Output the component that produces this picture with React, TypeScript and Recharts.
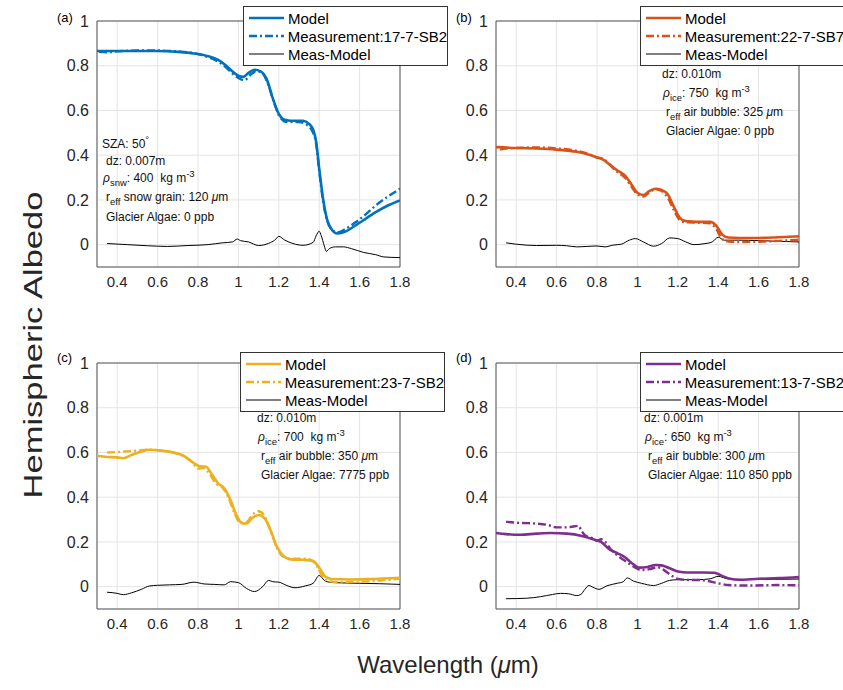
import React from 'react';
import { LineChart, Line, XAxis, YAxis, CartesianGrid, ReferenceArea } from 'recharts';

type Pt = [number, number];

// wavelength (um) -> albedo
const aModel: Pt[] = [[0.30,0.866],[0.40,0.866],[0.50,0.866],[0.60,0.866],[0.70,0.862],[0.78,0.855],[0.84,0.845],[0.90,0.826],[0.94,0.8],[0.97,0.775],[1.00,0.755],[1.025,0.75],[1.05,0.768],[1.08,0.782],[1.11,0.775],[1.14,0.74],[1.17,0.655],[1.20,0.585],[1.23,0.558],[1.26,0.554],[1.32,0.554],[1.35,0.54],[1.37,0.515],[1.385,0.46],[1.40,0.34],[1.42,0.2],[1.44,0.11],[1.46,0.07],[1.49,0.05],[1.53,0.058],[1.57,0.08],[1.62,0.11],[1.68,0.145],[1.74,0.175],[1.80,0.198]];
const aMeas: Pt[] = [[0.31,0.862],[0.35,0.86],[0.40,0.864],[0.50,0.868],[0.60,0.868],[0.70,0.864],[0.78,0.856],[0.84,0.842],[0.90,0.818],[0.94,0.792],[0.97,0.765],[1.00,0.745],[1.03,0.735],[1.06,0.76],[1.09,0.776],[1.12,0.765],[1.15,0.71],[1.18,0.625],[1.21,0.565],[1.24,0.548],[1.30,0.548],[1.34,0.535],[1.37,0.5],[1.385,0.45],[1.40,0.33],[1.42,0.19],[1.44,0.105],[1.46,0.07],[1.49,0.055],[1.53,0.07],[1.58,0.1],[1.63,0.135],[1.68,0.175],[1.74,0.215],[1.80,0.25]];
const aDiff: Pt[] = [[0.35,0.005],[0.45,0.0],[0.55,-0.005],[0.65,-0.008],[0.75,-0.004],[0.85,0.0],[0.92,0.008],[0.97,0.012],[0.995,0.025],[1.01,0.018],[1.05,0.012],[1.10,-0.004],[1.15,0.006],[1.18,0.02],[1.20,0.037],[1.23,0.02],[1.27,0.005],[1.32,-0.003],[1.37,0.01],[1.385,0.04],[1.40,0.06],[1.41,0.04],[1.425,-0.005],[1.435,-0.03],[1.45,-0.018],[1.48,-0.01],[1.52,-0.01],[1.56,-0.018],[1.62,-0.035],[1.68,-0.045],[1.72,-0.055],[1.80,-0.058]];

const bModel: Pt[] = [[0.30,0.436],[0.40,0.432],[0.50,0.43],[0.60,0.425],[0.70,0.415],[0.76,0.402],[0.80,0.39],[0.83,0.38],[0.86,0.36],[0.90,0.332],[0.94,0.308],[0.97,0.27],[1.00,0.232],[1.03,0.222],[1.06,0.24],[1.09,0.25],[1.12,0.245],[1.15,0.225],[1.18,0.17],[1.21,0.12],[1.24,0.105],[1.30,0.102],[1.36,0.102],[1.39,0.085],[1.42,0.045],[1.45,0.032],[1.50,0.03],[1.60,0.03],[1.70,0.033],[1.80,0.037]];
const bMeas: Pt[] = [[0.32,0.425],[0.35,0.43],[0.40,0.432],[0.50,0.435],[0.60,0.43],[0.70,0.42],[0.76,0.405],[0.80,0.39],[0.83,0.385],[0.86,0.36],[0.90,0.325],[0.94,0.298],[0.97,0.26],[1.00,0.225],[1.03,0.215],[1.06,0.235],[1.09,0.248],[1.12,0.24],[1.15,0.21],[1.18,0.155],[1.21,0.11],[1.24,0.1],[1.30,0.098],[1.36,0.095],[1.39,0.07],[1.42,0.025],[1.45,0.014],[1.50,0.012],[1.60,0.013],[1.70,0.017],[1.80,0.022]];
const bDiff: Pt[] = [[0.35,0.008],[0.40,0.002],[0.50,-0.004],[0.60,-0.003],[0.65,-0.005],[0.70,-0.01],[0.75,-0.008],[0.80,-0.006],[0.84,-0.01],[0.88,-0.002],[0.92,0.002],[0.96,0.02],[0.99,0.027],[1.03,0.012],[1.08,-0.007],[1.12,0.005],[1.16,0.03],[1.20,0.027],[1.24,0.012],[1.28,0.0],[1.33,0.004],[1.37,0.012],[1.40,0.033],[1.43,0.02],[1.50,0.02],[1.60,0.018],[1.70,0.015],[1.80,0.012]];

const cModel: Pt[] = [[0.30,0.585],[0.35,0.58],[0.40,0.578],[0.43,0.574],[0.47,0.588],[0.52,0.604],[0.56,0.612],[0.62,0.608],[0.68,0.6],[0.73,0.585],[0.78,0.552],[0.81,0.538],[0.84,0.536],[0.87,0.5],[0.90,0.462],[0.93,0.44],[0.96,0.39],[0.99,0.32],[1.02,0.283],[1.04,0.282],[1.07,0.308],[1.10,0.32],[1.13,0.305],[1.16,0.25],[1.19,0.18],[1.22,0.14],[1.26,0.122],[1.32,0.12],[1.37,0.115],[1.40,0.085],[1.43,0.045],[1.46,0.034],[1.55,0.032],[1.65,0.034],[1.80,0.04]];
const cMeas: Pt[] = [[0.35,0.6],[0.40,0.602],[0.45,0.605],[0.50,0.608],[0.55,0.612],[0.60,0.61],[0.66,0.602],[0.72,0.588],[0.77,0.558],[0.80,0.528],[0.83,0.53],[0.86,0.5],[0.89,0.46],[0.92,0.445],[0.95,0.4],[0.98,0.33],[1.01,0.285],[1.04,0.288],[1.07,0.322],[1.10,0.337],[1.13,0.315],[1.16,0.248],[1.19,0.175],[1.22,0.135],[1.26,0.125],[1.32,0.125],[1.36,0.12],[1.39,0.09],[1.42,0.04],[1.45,0.024],[1.50,0.02],[1.60,0.022],[1.70,0.027],[1.80,0.035]];
const cDiff: Pt[] = [[0.35,-0.025],[0.40,-0.03],[0.43,-0.036],[0.47,-0.028],[0.52,-0.012],[0.56,0.003],[0.60,0.006],[0.66,0.008],[0.72,0.01],[0.78,0.02],[0.83,0.012],[0.88,0.01],[0.93,0.008],[0.96,0.022],[1.00,0.018],[1.04,-0.008],[1.08,-0.022],[1.12,0.0],[1.15,0.028],[1.17,0.022],[1.20,0.02],[1.24,0.005],[1.28,-0.005],[1.33,0.003],[1.37,0.015],[1.40,0.05],[1.43,0.025],[1.47,0.018],[1.60,0.015],[1.70,0.013],[1.80,0.01]];

const dModel: Pt[] = [[0.30,0.24],[0.35,0.235],[0.42,0.232],[0.50,0.237],[0.57,0.24],[0.65,0.237],[0.72,0.228],[0.78,0.212],[0.82,0.2],[0.86,0.168],[0.90,0.15],[0.94,0.13],[0.97,0.107],[1.01,0.085],[1.05,0.088],[1.09,0.097],[1.12,0.095],[1.16,0.082],[1.20,0.068],[1.25,0.063],[1.32,0.063],[1.38,0.062],[1.42,0.048],[1.46,0.035],[1.50,0.031],[1.60,0.035],[1.70,0.038],[1.80,0.043]];
const dMeas: Pt[] = [[0.35,0.29],[0.42,0.285],[0.50,0.282],[0.56,0.275],[0.60,0.265],[0.65,0.265],[0.69,0.27],[0.71,0.272],[0.72,0.255],[0.74,0.23],[0.78,0.215],[0.80,0.205],[0.82,0.212],[0.84,0.2],[0.87,0.165],[0.90,0.14],[0.94,0.115],[0.98,0.09],[1.02,0.074],[1.06,0.078],[1.10,0.087],[1.13,0.075],[1.16,0.055],[1.20,0.035],[1.25,0.03],[1.30,0.03],[1.35,0.025],[1.40,0.015],[1.45,0.007],[1.55,0.005],[1.70,0.007],[1.80,0.006]];
const dDiff: Pt[] = [[0.35,-0.054],[0.45,-0.052],[0.52,-0.045],[0.58,-0.035],[0.62,-0.03],[0.66,-0.032],[0.70,-0.04],[0.72,-0.035],[0.74,-0.012],[0.76,0.005],[0.78,-0.003],[0.81,-0.012],[0.85,0.004],[0.90,0.015],[0.93,0.022],[0.95,0.039],[0.98,0.025],[1.02,0.015],[1.08,0.005],[1.12,0.015],[1.16,0.028],[1.20,0.031],[1.30,0.031],[1.36,0.035],[1.40,0.046],[1.45,0.034],[1.55,0.032],[1.80,0.034]];

const X_TICKS = [0.4, 0.6, 0.8, 1, 1.2, 1.4, 1.6, 1.8];
const Y_TICKS = [0, 0.2, 0.4, 0.6, 0.8, 1];

const FONT = "'Liberation Sans', Arial, Helvetica, sans-serif";
const INK = '#262626';

const rows = (pts: Pt[]) => pts.map(([w, v]) => ({ w, v }));

function Panel({ left, top, color, model, meas, diff }: any) {
  return (
    <div style={{ position: 'absolute', left, top }}>
      <LineChart width={420} height={300} margin={{ top: 21, right: 20, bottom: 0, left: 0 }}>
        <CartesianGrid stroke="#e4e4e4" />
        <XAxis type="number" dataKey="w" domain={[0.3, 1.8]} ticks={X_TICKS} allowDataOverflow
          height={33} tickSize={0} tickMargin={9} axisLine={false}
          tick={{ fontSize: 15, fill: INK, fontFamily: FONT }} />
        <YAxis type="number" domain={[-0.1, 1]} ticks={Y_TICKS} allowDataOverflow
          width={97} tickSize={0} tickMargin={8} axisLine={false}
          tick={{ fontSize: 16, fill: INK, fontFamily: FONT }} />
        <ReferenceArea x1={0.3} x2={1.8} y1={-0.1} y2={1} fill="none" stroke="#555" strokeWidth={1} />
        <Line data={rows(diff)} dataKey="v" type="monotone" stroke="#000" strokeWidth={1}
          dot={false} isAnimationActive={false} />
        <Line data={rows(meas)} dataKey="v" type="monotone" stroke={color} strokeWidth={2.4}
          strokeDasharray="8 3 2 3" dot={false} isAnimationActive={false} />
        <Line data={rows(model)} dataKey="v" type="monotone" stroke={color} strokeWidth={2.6}
          dot={false} isAnimationActive={false} />
      </LineChart>
    </div>
  );
}

function LegendBox({ left, top, color, label }: any) {
  const row = (dash: string | undefined, c: string, w: number, text: string) => (
    <div style={{ display: 'flex', alignItems: 'center', height: 18 }}>
      <svg width={44} height={18}>
        <line x1={5} x2={40} y1={9} y2={9} stroke={c} strokeWidth={w} strokeDasharray={dash} />
      </svg>
      <span>{text}</span>
    </div>
  );
  return (
    <div style={{
      position: 'absolute', left, top, width: 203, height: 56, paddingTop: 2,
      border: '1px solid #333', background: '#fff', fontSize: 15, color: '#000',
      whiteSpace: 'nowrap', overflow: 'hidden',
    }}>
      {row(undefined, color, 2.6, 'Model')}
      {row('8 3 2 3', color, 2.4, label)}
      {row(undefined, '#000', 1, 'Meas-Model')}
    </div>
  );
}

const sub = (t: string) => <span style={{ fontSize: 9.5, position: 'relative', top: 4 }}>{t}</span>;
const sup = (t: string) => <span style={{ fontSize: 9.5, position: 'relative', top: -5 }}>{t}</span>;
const mu = <i>μ</i>;

function Note({ x, y, children }: any) {
  return (
    <div style={{ position: 'absolute', left: x, top: y - 7, fontSize: 12, lineHeight: '14px', whiteSpace: 'nowrap', color: '#111' }}>
      {children}
    </div>
  );
}

function IceNotes({ x, y, dz, rho, reff, algae }: any) {
  return (
    <>
      <Note x={x} y={y}>dz: {dz}</Note>
      <Note x={x + 1} y={y + 19}><i>ρ</i>{sub('ice')}: {rho}&nbsp; kg m{sup('-3')}</Note>
      <Note x={x + 4} y={y + 38}>r{sub('eff')} air bubble: {reff} {mu}m</Note>
      <Note x={x + 4} y={y + 57}>Glacier Algae: {algae}</Note>
    </>
  );
}

export default function App() {
  return (
    <div style={{ position: 'absolute', left: 0, top: 0, width: 843, height: 690, background: '#fff', fontFamily: FONT, overflow: 'hidden' }}>
      <Panel left={0} top={0} color="#0072BD" model={aModel} meas={aMeas} diff={aDiff} />
      <Panel left={399} top={0} color="#D95319" model={bModel} meas={bMeas} diff={bDiff} />
      <Panel left={0} top={342} color="#EDB120" model={cModel} meas={cMeas} diff={cDiff} />
      <Panel left={399} top={342} color="#7E2F8E" model={dModel} meas={dMeas} diff={dDiff} />

      <div style={{ position: 'absolute', left: 57, top: 10, fontSize: 13 }}>(a)</div>
      <div style={{ position: 'absolute', left: 456, top: 10, fontSize: 13 }}>(b)</div>
      <div style={{ position: 'absolute', left: 57, top: 350, fontSize: 13 }}>(c)</div>
      <div style={{ position: 'absolute', left: 456, top: 350, fontSize: 13 }}>(d)</div>

      <LegendBox left={243} top={6} color="#0072BD" label="Measurement:17-7-SB2" />
      <LegendBox left={640} top={6} color="#D95319" label="Measurement:22-7-SB7" />
      <LegendBox left={240} top={352} color="#EDB120" label="Measurement:23-7-SB2" />
      <LegendBox left={640} top={352} color="#7E2F8E" label="Measurement:13-7-SB2" />

      <Note x={102} y={144}>SZA: 50{sup('°')}</Note>
      <Note x={106} y={161}>dz: 0.007m</Note>
      <Note x={103} y={178}><i>ρ</i>{sub('snw')}: 400&nbsp; kg m{sup('-3')}</Note>
      <Note x={106} y={197}>r{sub('eff')} snow grain: 120 {mu}m</Note>
      <Note x={106} y={217}>Glacier Algae: 0 ppb</Note>

      <IceNotes x={662} y={74} dz="0.010m" rho="750" reff="325" algae="0 ppb" />
      <IceNotes x={257} y={418} dz="0.010m" rho="700" reff="350" algae="7775 ppb" />
      <IceNotes x={644} y={418} dz="0.001m" rho="650" reff="300" algae="110 850 ppb" />

      <div style={{
        position: 'absolute', left: 33, top: 345, fontSize: 25, color: INK, whiteSpace: 'nowrap',
        transform: 'translate(-50%, -50%) rotate(-90deg) scaleX(1.38)',
      }}>Hemispheric Albedo</div>
      <div style={{
        position: 'absolute', left: 448, top: 665, fontSize: 24, color: INK, whiteSpace: 'nowrap',
        transform: 'translate(-50%, -50%)',
      }}>Wavelength ({mu}m)</div>
    </div>
  );
}
